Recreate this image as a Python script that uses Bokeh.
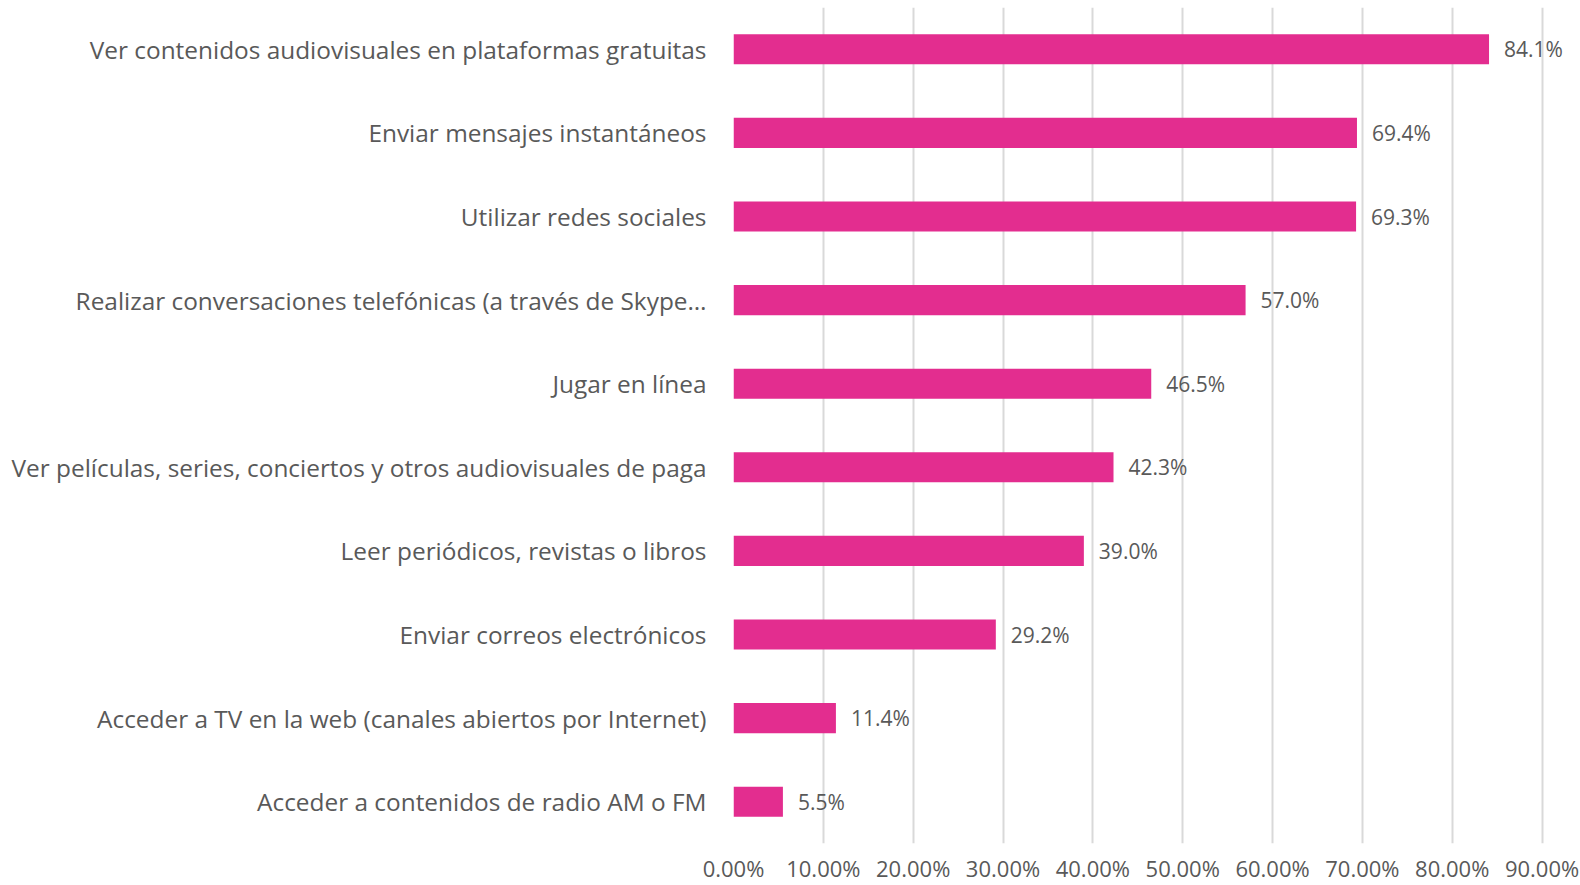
from bokeh.plotting import figure
from bokeh.models import ColumnDataSource, Range1d, SingleIntervalTicker, PrintfTickFormatter
from bokeh.core.properties import value
from bokeh.embed import file_html
from bokeh.resources import INLINE

categories = [
    "Ver contenidos audiovisuales en plataformas gratuitas",
    "Enviar mensajes instantáneos",
    "Utilizar redes sociales",
    "Realizar conversaciones telefónicas (a través de Skype…",
    "Jugar en línea",
    "Ver películas, series, conciertos y otros audiovisuales de paga",
    "Leer periódicos, revistas o libros",
    "Enviar correos electrónicos",
    "Acceder a TV en la web (canales abiertos por Internet)",
    "Acceder a contenidos de radio AM o FM",
]
values = [84.1, 69.4, 69.3, 57.0, 46.5, 42.3, 39.0, 29.2, 11.4, 5.5]
labels = [f"{v:.1f}%" for v in values]

FONT = "Open Sans"
TXT = "#595959"
BAR = "#E32D8F"

src = ColumnDataSource(dict(cat=categories, val=values, lab=labels))

p = figure(
    y_range=list(reversed(categories)),
    x_range=Range1d(0, 92.5),
    width=1580, height=885,
    output_backend="svg", toolbar_location=None,
    min_border_left=733, min_border_right=16, min_border_top=7, min_border_bottom=42,
)
p.outline_line_color = None
p.background_fill_color = "white"
p.border_fill_color = "white"

p.hbar(y="cat", right="val", left=0, height=0.36, source=src,
       fill_color=BAR, line_color=None)
p.text(x="val", y="cat", text="lab", source=src, x_offset=15,
       text_baseline="middle", text_align="left",
       text_font=value(FONT), text_font_size="21px", text_color=TXT)

p.xaxis.ticker = SingleIntervalTicker(interval=10)
p.xaxis.formatter = PrintfTickFormatter(format="%.2f%%")
for ax in (p.xaxis[0], p.yaxis[0]):
    ax.axis_line_color = None
    ax.major_tick_line_color = None
    ax.minor_tick_line_color = None
    ax.major_tick_out = 0
    ax.major_tick_in = 0
    ax.major_label_text_color = TXT
    ax.major_label_text_font = FONT
p.xaxis.major_label_text_font_size = "22px"
p.xaxis.major_label_standoff = 5
p.yaxis.major_label_text_font_size = "24.4px"
p.yaxis.major_label_standoff = 27

p.xgrid.grid_line_color = "#d9d9d9"
p.xgrid.grid_line_width = 2
p.ygrid.grid_line_color = None

open("out.html", "w").write(file_html(p, INLINE))
